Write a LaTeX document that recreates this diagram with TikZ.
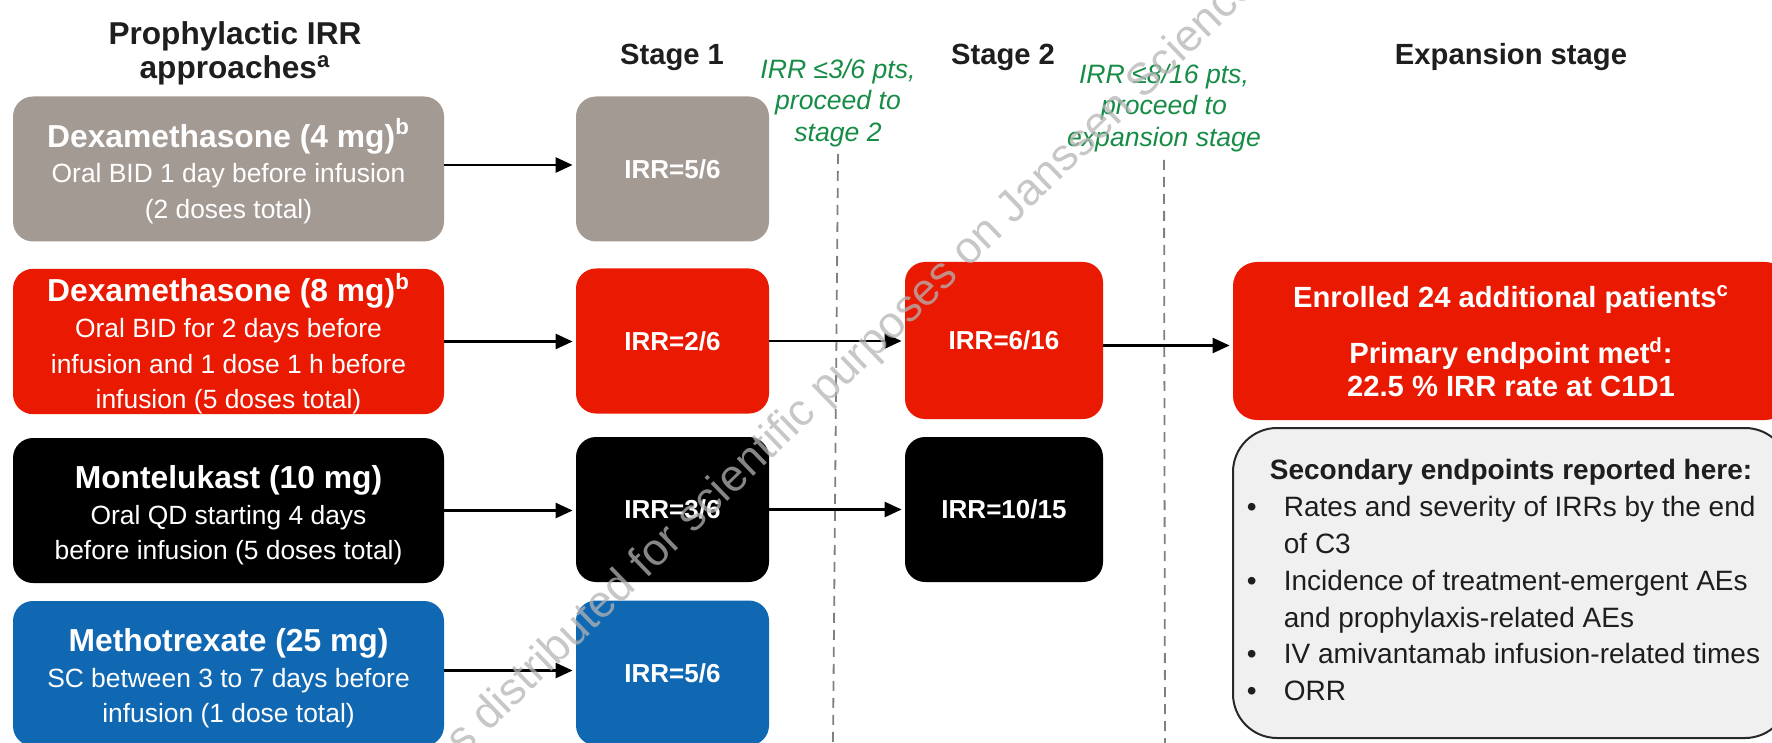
\documentclass[tikz,border=0pt]{standalone}
\usepackage{fontspec}
\setmainfont{Liberation Sans}
\usetikzlibrary{arrows.meta}

\definecolor{boxgray}{RGB}{164,154,148}
\definecolor{boxred}{RGB}{234,25,2}
\definecolor{boxblue}{RGB}{17,104,178}
\definecolor{notegreen}{RGB}{23,140,70}
\definecolor{headtext}{RGB}{30,30,30}
\definecolor{secfill}{RGB}{240,240,240}
\definecolor{secline}{RGB}{40,40,40}
\definecolor{dashgray}{RGB}{128,128,128}
\definecolor{wmgray}{RGB}{180,180,180}

\newcommand\drugname[1]{{\bfseries\fontsize{15.9}{17.5}\selectfont\rule{0pt}{16.5pt}#1}}

\begin{document}
\begin{tikzpicture}[x=0.5pt, y=-0.5pt,
    drug/.style={rounded corners=10pt, fill=#1, text=white, align=center,
      minimum width=215.5pt, minimum height=72.5pt, inner sep=0pt,
      font=\fontsize{13.2}{17.8}\selectfont},
    irr/.style={rounded corners=10pt, fill=#1, text=white,
      minimum width=96.5pt, minimum height=72.5pt, inner sep=0pt,
      font=\bfseries\fontsize{13}{15}\selectfont},
    head/.style={text=headtext, align=center, inner sep=0pt,
      font=\bfseries\fontsize{14.6}{17}\selectfont},
    note/.style={text=notegreen, align=center, inner sep=0pt,
      font=\itshape\fontsize{13.3}{15.8}\selectfont},
    expbox/.style={rounded corners=12pt, fill=boxred, text=white, align=center,
      minimum width=278pt, minimum height=79pt, inner sep=0pt,
      font=\bfseries\fontsize{14.6}{16.5}\selectfont},
    secbox/.style={rounded corners=22pt, fill=secfill, draw=secline, line width=1pt,
      minimum width=278pt, minimum height=155pt, inner sep=0pt, text=headtext,
      font=\fontsize{14}{18.4}\selectfont},
    arrow/.style={-{Triangle[length=8.5pt,width=7.5pt]}, line width=1.3pt, shorten >=1.5pt},
    divider/.style={draw=dashgray, dash pattern=on 5pt off 3.5pt, line width=0.9pt},
    watermark/.style={text=wmgray, text opacity=0.75, inner sep=0pt,
      font=\fontsize{22.5}{25}\selectfont}
  ]

  \useasboundingbox (0,0) rectangle (1772,743);
  \clip (0,0) rectangle (1772,743);

  % Column headings
  \node[head, font=\bfseries\fontsize{15.8}{17}\selectfont] (hpro) at (235,53) {Prophylactic IRR\\approaches\textsuperscript{a}};
  \node[head] (hs1) at (672,57) {Stage 1};
  \node[head] (hs2) at (1003,57) {Stage 2};
  \node[head] (hexp) at (1511,57) {Expansion stage};

  % Go / no-go rules between stages
  \node[note] (rule1) at (838,103) {IRR ≤3/6 pts,\\proceed to\\stage 2};
  \node[note] (rule2) at (1164,108) {IRR ≤8/16 pts,\\proceed to\\expansion stage};
  \draw[divider] (838,154) -- (833,743);
  \draw[divider] (1164,160) -- (1165,743);

  % Prophylaxis regimens
  \node[drug=boxgray] (d1) at (228.5,169) {\drugname{Dexamethasone (4 mg)\textsuperscript{b}}\\
    Oral BID 1 day before infusion\\(2 doses total)};
  \node[drug=boxred] (d2) at (228.5,341.5) {\drugname{Dexamethasone (8 mg)\textsuperscript{b}}\\
    Oral BID for 2 days before\\infusion and 1 dose 1 h before\\infusion (5 doses total)};
  \node[drug=black] (d3) at (228.5,510.5) {\drugname{Montelukast (10 mg)}\\
    Oral QD starting 4 days\\before infusion (5 doses total)};
  \node[drug=boxblue] (d4) at (228.5,673.5) {\drugname{Methotrexate (25 mg)}\\
    SC between 3 to 7 days before\\infusion (1 dose total)};

  % Stage 1
  \node[irr=boxgray] (s1a) at (672.5,169) {IRR=5/6};
  \node[irr=boxred] (s1b) at (672.5,341) {IRR=2/6};
  \node[irr=black] (s1c) at (672.5,509.5) {IRR=3/6};
  \node[irr=boxblue] (s1d) at (672.5,673) {IRR=5/6};

  % Stage 2
  \node[irr=boxred, minimum width=99pt, minimum height=78.5pt] (s2b) at (1004,340.5) {IRR=6/16};
  \node[irr=black, minimum width=99pt] (s2c) at (1004,509.5) {IRR=10/15};

  % Expansion stage
  \node[expbox] (exp) at (1511,341) {Enrolled 24 additional patients\textsuperscript{c}\\[11.5pt]
    Primary endpoint met\textsuperscript{d}:\\22.5 \% IRR rate at C1D1};
  \node[secbox] (sec) at (1511,583) {%
    \begin{tabular}{@{}p{18.5pt}@{}l@{\hspace{7.5pt}}}
      \multicolumn{2}{@{}c@{}}{\bfseries Secondary endpoints reported here:}\\
      • & Rates and severity of IRRs by the end\\
        & of C3\\
      • & Incidence of treatment-emergent AEs\\
        & and prophylaxis-related AEs\\
      • & IV amivantamab infusion-related times\\
      • & ORR
    \end{tabular}};

  % Arrows
  \draw[arrow] ([yshift=2pt]d1.east) -- ([yshift=2pt]d1.east -| s1a.west);
  \draw[arrow] (d2.east) -- (d2.east -| s1b.west);
  \draw[arrow] (d3.east) -- (d3.east -| s1c.west);
  \draw[arrow] ([yshift=1.5pt]d4.east) -- ([yshift=1.5pt]d4.east -| s1d.west);
  \draw[arrow] (s1b.east) -- (s1b.east -| s2b.west);
  \draw[arrow] (s1c.east) -- (s1c.east -| s2c.west);
  \draw[arrow] ([yshift=-2.5pt]s2b.east) -- ([yshift=-2.5pt]s2b.east -| exp.west);

  % Watermark
  \node[watermark, rotate=44, anchor=base west] (wm) at (463,757)
    {s distributed for scientific purposes on Janssen Science};

\end{tikzpicture}
\end{document}
